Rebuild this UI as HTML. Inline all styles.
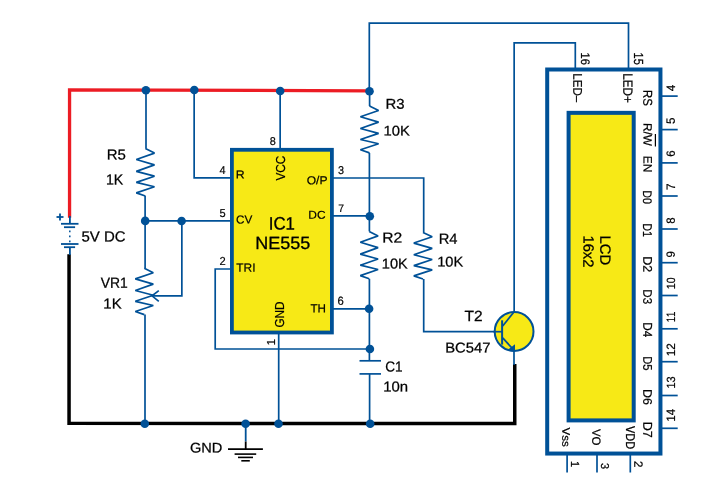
<!DOCTYPE html>
<html><head><meta charset="utf-8"><style>
html,body{margin:0;padding:0;background:#fff;width:726px;height:487px;overflow:hidden}
svg{display:block;will-change:transform}
text{font-family:"Liberation Sans",sans-serif;fill:#000000;font-kerning:none;text-rendering:geometricPrecision;stroke:#000000;stroke-width:0.35px}
</style></head><body>
<svg width="726" height="487" viewBox="0 0 726 487">
<polyline points="69.55,217.80 69.55,89.90 369.40,90.80" fill="none" stroke="#ec1c24" stroke-width="3.3" stroke-linejoin="miter" stroke-linecap="butt"/>
<polyline points="69.05,254.20 69.05,423.30 514.75,423.60 514.75,364.00" fill="none" stroke="#000000" stroke-width="3.5" stroke-linejoin="miter" stroke-linecap="butt"/>
<polyline points="69.90,216.00 69.90,224.00" fill="none" stroke="#005197" stroke-width="1.8" stroke-linejoin="miter" stroke-linecap="butt"/>
<polyline points="61.00,223.80 78.50,223.80" fill="none" stroke="#005197" stroke-width="1.8" stroke-linejoin="miter" stroke-linecap="butt"/>
<polyline points="64.00,227.20 75.10,227.20" fill="none" stroke="#005197" stroke-width="1.8" stroke-linejoin="miter" stroke-linecap="butt"/>
<line x1="69.8" y1="230.6" x2="69.8" y2="243" stroke="#005197" stroke-width="1.5" stroke-dasharray="1.6 3.4"/>
<polyline points="61.00,244.00 78.50,244.00" fill="none" stroke="#005197" stroke-width="1.8" stroke-linejoin="miter" stroke-linecap="butt"/>
<polyline points="64.00,247.20 75.10,247.20" fill="none" stroke="#005197" stroke-width="1.8" stroke-linejoin="miter" stroke-linecap="butt"/>
<polyline points="69.90,247.00 69.90,255.00" fill="none" stroke="#005197" stroke-width="1.8" stroke-linejoin="miter" stroke-linecap="butt"/>
<polyline points="56.50,217.00 63.50,217.00" fill="none" stroke="#005197" stroke-width="1.8" stroke-linejoin="miter" stroke-linecap="butt"/>
<polyline points="60.00,213.50 60.00,220.50" fill="none" stroke="#005197" stroke-width="1.8" stroke-linejoin="miter" stroke-linecap="butt"/>
<polyline points="146.00,90.50 146.00,148.60" fill="none" stroke="#005197" stroke-width="1.7" stroke-linejoin="miter" stroke-linecap="butt"/>
<polyline points="145.40,148.60 154.50,153.09 136.30,159.44 154.50,164.84 136.30,171.34 154.50,176.18 136.30,182.39 154.50,186.72 136.30,192.87 145.40,196.00" fill="none" stroke="#005197" stroke-width="1.7" stroke-linejoin="bevel" stroke-linecap="butt"/>
<polyline points="145.10,196.00 145.10,268.30" fill="none" stroke="#005197" stroke-width="1.7" stroke-linejoin="miter" stroke-linecap="butt"/>
<polyline points="144.30,268.30 153.30,272.68 135.30,278.89 153.30,284.16 135.30,290.51 153.30,295.24 135.30,301.30 153.30,305.54 135.30,311.55 144.30,314.60" fill="none" stroke="#005197" stroke-width="1.7" stroke-linejoin="bevel" stroke-linecap="butt"/>
<polyline points="145.00,314.60 145.00,423.40" fill="none" stroke="#005197" stroke-width="1.7" stroke-linejoin="miter" stroke-linecap="butt"/>
<polyline points="194.15,90.50 194.15,177.80 232.00,177.80" fill="none" stroke="#005197" stroke-width="1.7" stroke-linejoin="miter" stroke-linecap="butt"/>
<polyline points="280.15,90.50 280.15,149.00" fill="none" stroke="#005197" stroke-width="1.7" stroke-linejoin="miter" stroke-linecap="butt"/>
<polyline points="369.30,90.50 369.30,23.10 628.50,23.10 628.50,70.00" fill="none" stroke="#005197" stroke-width="1.7" stroke-linejoin="miter" stroke-linecap="butt"/>
<polyline points="369.60,90.50 369.60,106.10" fill="none" stroke="#005197" stroke-width="1.7" stroke-linejoin="miter" stroke-linecap="butt"/>
<polyline points="369.50,106.10 378.60,110.53 360.40,116.80 378.60,122.13 360.40,128.55 378.60,133.33 360.40,139.46 378.60,143.74 360.40,149.81 369.50,152.90" fill="none" stroke="#005197" stroke-width="1.7" stroke-linejoin="bevel" stroke-linecap="butt"/>
<polyline points="369.40,152.90 369.40,231.40" fill="none" stroke="#005197" stroke-width="1.7" stroke-linejoin="miter" stroke-linecap="butt"/>
<polyline points="369.20,231.40 378.10,235.89 360.30,242.24 378.10,247.64 360.30,254.14 378.10,258.98 360.30,265.19 378.10,269.52 360.30,275.67 369.20,278.80" fill="none" stroke="#005197" stroke-width="1.7" stroke-linejoin="bevel" stroke-linecap="butt"/>
<polyline points="369.40,278.80 369.40,360.80" fill="none" stroke="#005197" stroke-width="1.7" stroke-linejoin="miter" stroke-linecap="butt"/>
<polyline points="359.50,360.80 381.00,360.80" fill="none" stroke="#005197" stroke-width="1.7" stroke-linejoin="miter" stroke-linecap="butt"/>
<polyline points="359.50,373.90 381.00,373.90" fill="none" stroke="#005197" stroke-width="1.7" stroke-linejoin="miter" stroke-linecap="butt"/>
<polyline points="369.60,373.90 369.60,423.40" fill="none" stroke="#005197" stroke-width="1.7" stroke-linejoin="miter" stroke-linecap="butt"/>
<polyline points="332.00,215.80 369.40,215.80" fill="none" stroke="#005197" stroke-width="1.7" stroke-linejoin="miter" stroke-linecap="butt"/>
<polyline points="332.00,308.80 369.40,308.80" fill="none" stroke="#005197" stroke-width="1.7" stroke-linejoin="miter" stroke-linecap="butt"/>
<polyline points="332.00,178.00 423.70,178.00 423.70,232.40" fill="none" stroke="#005197" stroke-width="1.7" stroke-linejoin="miter" stroke-linecap="butt"/>
<polyline points="423.00,232.40 432.20,236.81 413.80,243.06 432.20,248.36 413.80,254.76 432.20,259.52 413.80,265.61 432.20,269.88 413.80,275.93 423.00,279.00" fill="none" stroke="#005197" stroke-width="1.7" stroke-linejoin="bevel" stroke-linecap="butt"/>
<polyline points="423.70,279.00 423.70,331.70 502.00,331.70" fill="none" stroke="#005197" stroke-width="1.7" stroke-linejoin="miter" stroke-linecap="butt"/>
<polyline points="145.50,220.90 232.00,220.90" fill="none" stroke="#005197" stroke-width="1.7" stroke-linejoin="miter" stroke-linecap="butt"/>
<polyline points="181.85,220.90 181.85,295.80 152.00,295.80" fill="none" stroke="#005197" stroke-width="1.7" stroke-linejoin="miter" stroke-linecap="butt"/>
<polyline points="158.80,290.60 152.00,295.80 158.80,301.40" fill="none" stroke="#005197" stroke-width="1.7" stroke-linejoin="miter" stroke-linecap="butt"/>
<polyline points="232.00,269.00 215.20,269.00 215.20,349.00 369.90,349.00" fill="none" stroke="#005197" stroke-width="1.7" stroke-linejoin="miter" stroke-linecap="butt"/>
<polyline points="278.70,332.00 278.70,423.40" fill="none" stroke="#005197" stroke-width="1.7" stroke-linejoin="miter" stroke-linecap="butt"/>
<polyline points="514.15,311.00 514.15,42.90 575.30,42.90 575.30,70.00" fill="none" stroke="#005197" stroke-width="1.7" stroke-linejoin="miter" stroke-linecap="butt"/>
<polyline points="514.00,349.00 514.00,365.00" fill="none" stroke="#005197" stroke-width="1.7" stroke-linejoin="miter" stroke-linecap="butt"/>
<polyline points="245.70,423.40 245.70,441.50" fill="none" stroke="#005197" stroke-width="1.8" stroke-linejoin="miter" stroke-linecap="butt"/>
<polyline points="245.70,441.50 245.70,449.00" fill="none" stroke="#000000" stroke-width="1.8" stroke-linejoin="miter" stroke-linecap="butt"/>
<polyline points="228.00,449.10 262.90,449.10" fill="none" stroke="#000000" stroke-width="1.6" stroke-linejoin="miter" stroke-linecap="butt"/>
<polyline points="234.60,454.10 256.20,454.10" fill="none" stroke="#000000" stroke-width="1.6" stroke-linejoin="miter" stroke-linecap="butt"/>
<polyline points="238.00,457.40 253.00,457.40" fill="none" stroke="#000000" stroke-width="1.6" stroke-linejoin="miter" stroke-linecap="butt"/>
<polyline points="241.30,460.80 249.80,460.80" fill="none" stroke="#000000" stroke-width="1.6" stroke-linejoin="miter" stroke-linecap="butt"/>
<circle cx="145.9" cy="90.2" r="4.3" fill="#005197"/>
<circle cx="194.3" cy="90.05" r="4.3" fill="#005197"/>
<circle cx="280.2" cy="91.0" r="4.3" fill="#005197"/>
<circle cx="369.5" cy="91.3" r="4.3" fill="#005197"/>
<circle cx="145.2" cy="220.9" r="4.3" fill="#005197"/>
<circle cx="181.6" cy="221" r="4.3" fill="#005197"/>
<circle cx="369.8" cy="216.2" r="4.3" fill="#005197"/>
<circle cx="369.1" cy="308.8" r="4.3" fill="#005197"/>
<circle cx="369.9" cy="349" r="4.3" fill="#005197"/>
<circle cx="144.8" cy="423.75" r="4.3" fill="#005197"/>
<circle cx="245.6" cy="423.7" r="4.3" fill="#005197"/>
<circle cx="278.5" cy="423.75" r="4.3" fill="#005197"/>
<circle cx="370.2" cy="423.8" r="4.3" fill="#005197"/>
<rect x="231.9" y="149.8" width="100" height="182.7" fill="#f7e916" stroke="#005197" stroke-width="3.8"/>
<circle cx="514.1" cy="331.5" r="19.4" fill="#f7e916" stroke="#005197" stroke-width="2"/>
<polyline points="502.10,320.30 502.10,344.60" fill="none" stroke="#005197" stroke-width="2.0" stroke-linejoin="miter" stroke-linecap="butt"/>
<polyline points="493.50,331.70 502.00,331.70" fill="none" stroke="#005197" stroke-width="1.7" stroke-linejoin="miter" stroke-linecap="butt"/>
<polyline points="502.70,326.00 514.00,311.90" fill="none" stroke="#005197" stroke-width="1.7" stroke-linejoin="miter" stroke-linecap="butt"/>
<polyline points="502.70,337.90 512.50,348.60" fill="none" stroke="#005197" stroke-width="1.7" stroke-linejoin="miter" stroke-linecap="butt"/>
<polygon points="515,344.2 508.2,349.4 515,351.8" fill="#005197"/>
<rect x="547.2" y="69.5" width="113.25" height="384.05" fill="#fff" stroke="#005197" stroke-width="4"/>
<rect x="568.6" y="112.85" width="65.1" height="307.55" fill="#f7e916" stroke="#005197" stroke-width="4"/>
<polyline points="660.30,96.10 677.70,96.10" fill="none" stroke="#005197" stroke-width="1.7" stroke-linejoin="miter" stroke-linecap="butt"/>
<polyline points="660.30,129.60 677.70,129.60" fill="none" stroke="#005197" stroke-width="1.7" stroke-linejoin="miter" stroke-linecap="butt"/>
<polyline points="660.30,162.90 677.70,162.90" fill="none" stroke="#005197" stroke-width="1.7" stroke-linejoin="miter" stroke-linecap="butt"/>
<polyline points="660.30,196.00 677.70,196.00" fill="none" stroke="#005197" stroke-width="1.7" stroke-linejoin="miter" stroke-linecap="butt"/>
<polyline points="660.30,229.00 677.70,229.00" fill="none" stroke="#005197" stroke-width="1.7" stroke-linejoin="miter" stroke-linecap="butt"/>
<polyline points="660.30,262.70 677.70,262.70" fill="none" stroke="#005197" stroke-width="1.7" stroke-linejoin="miter" stroke-linecap="butt"/>
<polyline points="660.30,295.50 677.70,295.50" fill="none" stroke="#005197" stroke-width="1.7" stroke-linejoin="miter" stroke-linecap="butt"/>
<polyline points="660.30,328.80 677.70,328.80" fill="none" stroke="#005197" stroke-width="1.7" stroke-linejoin="miter" stroke-linecap="butt"/>
<polyline points="660.30,361.70 677.70,361.70" fill="none" stroke="#005197" stroke-width="1.7" stroke-linejoin="miter" stroke-linecap="butt"/>
<polyline points="660.30,395.50 677.70,395.50" fill="none" stroke="#005197" stroke-width="1.7" stroke-linejoin="miter" stroke-linecap="butt"/>
<polyline points="660.30,428.30 677.70,428.30" fill="none" stroke="#005197" stroke-width="1.7" stroke-linejoin="miter" stroke-linecap="butt"/>
<polyline points="567.10,453.70 567.10,472.50" fill="none" stroke="#005197" stroke-width="1.7" stroke-linejoin="miter" stroke-linecap="butt"/>
<polyline points="597.00,453.70 597.00,472.50" fill="none" stroke="#005197" stroke-width="1.7" stroke-linejoin="miter" stroke-linecap="butt"/>
<polyline points="630.30,453.70 630.30,472.50" fill="none" stroke="#005197" stroke-width="1.7" stroke-linejoin="miter" stroke-linecap="butt"/>
<text transform="translate(106.72 159.61) rotate(0.05) scale(0.7494 0.7238)" font-size="20.0">R5</text>
<text transform="translate(105.97 184.45) rotate(0.05) scale(0.7088 0.7340)" font-size="20.0">1K</text>
<text transform="translate(81.45 241.51) rotate(0.05) scale(0.7481 0.7345)" font-size="20.0">5V DC</text>
<text transform="translate(100.69 287.75) rotate(0.05) scale(0.6950 0.7340)" font-size="20.0">VR1</text>
<text transform="translate(103.31 308.45) rotate(0.05) scale(0.7484 0.7195)" font-size="20.0">1K</text>
<text transform="translate(385.43 108.71) rotate(0.05) scale(0.7463 0.7133)" font-size="20.0">R3</text>
<text transform="translate(383.62 135.61) rotate(0.05) scale(0.7388 0.6991)" font-size="20.0">10K</text>
<text transform="translate(382.17 242.45) rotate(0.05) scale(0.7810 0.7161)" font-size="20.0">R2</text>
<text transform="translate(381.84 268.41) rotate(0.05) scale(0.7270 0.7133)" font-size="20.0">10K</text>
<text transform="translate(438.64 243.75) rotate(0.05) scale(0.7369 0.7340)" font-size="20.0">R4</text>
<text transform="translate(437.24 266.51) rotate(0.05) scale(0.7300 0.7062)" font-size="20.0">10K</text>
<text transform="translate(385.26 371.51) rotate(0.05) scale(0.6787 0.7203)" font-size="20.0">C1</text>
<text transform="translate(383.21 391.41) rotate(0.05) scale(0.7464 0.7203)" font-size="20.0">10n</text>
<text transform="translate(464.50 320.95) rotate(0.05) scale(0.7768 0.7376)" font-size="20.0">T2</text>
<text transform="translate(445.14 352.41) rotate(0.05) scale(0.7401 0.7133)" font-size="20.0">BC547</text>
<text transform="translate(189.92 452.41) rotate(0.05) scale(0.7297 0.6991)" font-size="20.0">GND</text>
<text transform="translate(268.80 229.57) rotate(0.05) scale(0.8410 0.8969)" font-size="20.0">IC1</text>
<text transform="translate(255.17 248.88) rotate(0.05) scale(0.8999 0.8886)" font-size="20.0">NE555</text>
<text transform="translate(235.84 178.55) rotate(0.05) scale(0.6147 0.5814)" font-size="20.0">R</text>
<text transform="translate(306.68 184.14) rotate(0.05) scale(0.6040 0.5787)" font-size="20.0">O/P</text>
<text transform="translate(308.27 218.64) rotate(0.05) scale(0.5966 0.5720)" font-size="20.0">DC</text>
<text transform="translate(235.96 223.44) rotate(0.05) scale(0.5847 0.5791)" font-size="20.0">CV</text>
<text transform="translate(236.28 271.75) rotate(0.05) scale(0.5982 0.5959)" font-size="20.0">TRI</text>
<text transform="translate(310.49 312.55) rotate(0.05) scale(0.5818 0.5959)" font-size="20.0">TH</text>
<text transform="translate(269.68 144.64) rotate(0.05) scale(0.5424 0.5650)" font-size="20.0">8</text>
<text transform="translate(219.51 173.55) rotate(0.05) scale(0.5442 0.5669)" font-size="20.0">4</text>
<text transform="translate(338.07 174.44) rotate(0.05) scale(0.5424 0.5650)" font-size="20.0">3</text>
<text transform="translate(338.13 211.95) rotate(0.05) scale(0.5233 0.5451)" font-size="20.0">7</text>
<text transform="translate(219.50 216.74) rotate(0.05) scale(0.5503 0.5733)" font-size="20.0">5</text>
<text transform="translate(219.50 264.65) rotate(0.05) scale(0.5568 0.5800)" font-size="20.0">2</text>
<text transform="translate(337.43 304.74) rotate(0.05) scale(0.5627 0.5862)" font-size="20.0">6</text>
<text transform="translate(285.02 180.60) rotate(-89.95) scale(0.5921 0.6497)" font-size="20.0">VCC</text>
<text transform="translate(284.02 327.54) rotate(-89.95) scale(0.5885 0.6497)" font-size="20.0">GND</text>
<text transform="translate(274.85 345.26) rotate(-89.95) scale(0.5581 0.5814)" font-size="20.0">1</text>
<text transform="translate(580.77 52.61) rotate(90.05) scale(0.5543 0.6215)" font-size="20.0">16</text>
<text transform="translate(633.68 52.61) rotate(90.05) scale(0.5532 0.6593)" font-size="20.0">15</text>
<text transform="translate(573.35 73.19) rotate(90.05) scale(0.5829 0.6323)" font-size="20.0">LED–</text>
<text transform="translate(623.35 73.19) rotate(90.05) scale(0.5880 0.6686)" font-size="20.0">LED+</text>
<text transform="translate(643.28 90.12) rotate(90.05) scale(0.5669 0.6426)" font-size="20.0">RS</text>
<text transform="translate(643.57 123.09) rotate(90.05) scale(0.5865 0.5991)" font-size="20.0">R/W</text>
<text transform="translate(643.45 155.77) rotate(90.05) scale(0.5956 0.6105)" font-size="20.0">EN</text>
<text transform="translate(643.37 190.37) rotate(90.05) scale(0.5358 0.6215)" font-size="20.0">D0</text>
<text transform="translate(643.25 223.26) rotate(90.05) scale(0.5403 0.6395)" font-size="20.0">D1</text>
<text transform="translate(643.25 256.33) rotate(90.05) scale(0.6239 0.6302)" font-size="20.0">D2</text>
<text transform="translate(643.37 289.30) rotate(90.05) scale(0.5814 0.6215)" font-size="20.0">D3</text>
<text transform="translate(643.25 322.19) rotate(90.05) scale(0.5870 0.6395)" font-size="20.0">D4</text>
<text transform="translate(643.37 356.23) rotate(90.05) scale(0.5631 0.6306)" font-size="20.0">D5</text>
<text transform="translate(643.37 388.93) rotate(90.05) scale(0.6205 0.6215)" font-size="20.0">D6</text>
<text transform="translate(643.25 421.73) rotate(90.05) scale(0.6239 0.6395)" font-size="20.0">D7</text>
<text transform="translate(562.16 427.40) rotate(90.05) scale(0.5810 0.5518)" font-size="20.0">Vss</text>
<text transform="translate(592.37 428.90) rotate(90.05) scale(0.5745 0.5932)" font-size="20.0">VO</text>
<text transform="translate(625.55 426.00) rotate(90.05) scale(0.5464 0.6395)" font-size="20.0">VDD</text>
<text transform="translate(600.29 235.43) rotate(90.05) scale(0.7431 0.7415)" font-size="20.0">LCD</text>
<text transform="translate(583.39 235.53) rotate(90.05) scale(0.7321 0.7415)" font-size="20.0">16x2</text>
<text transform="translate(674.83 289.16) rotate(-89.95) scale(0.5316 0.5932)" font-size="20.0">10</text>
<text transform="translate(674.95 322.28) rotate(-89.95) scale(0.4811 0.6105)" font-size="20.0">11</text>
<text transform="translate(674.95 356.24) rotate(-89.95) scale(0.5833 0.6015)" font-size="20.0">12</text>
<text transform="translate(674.83 388.59) rotate(-89.95) scale(0.5493 0.5932)" font-size="20.0">13</text>
<text transform="translate(674.95 421.51) rotate(-89.95) scale(0.5661 0.6105)" font-size="20.0">14</text>
<text transform="translate(674.95 91.32) rotate(-89.95) scale(0.5861 0.6105)" font-size="20.0">4</text>
<text transform="translate(674.83 124.10) rotate(-89.95) scale(0.5779 0.6019)" font-size="20.0">5</text>
<text transform="translate(674.83 156.66) rotate(-89.95) scale(0.5695 0.5932)" font-size="20.0">6</text>
<text transform="translate(674.95 189.92) rotate(-89.95) scale(0.5861 0.6105)" font-size="20.0">7</text>
<text transform="translate(674.83 223.82) rotate(-89.95) scale(0.5695 0.5932)" font-size="20.0">8</text>
<text transform="translate(674.83 257.51) rotate(-89.95) scale(0.5695 0.5932)" font-size="20.0">9</text>
<text transform="translate(570.95 461.05) rotate(90.05) scale(0.5651 0.5887)" font-size="20.0">1</text>
<text transform="translate(601.26 463.03) rotate(90.05) scale(0.5491 0.5720)" font-size="20.0">3</text>
<text transform="translate(634.15 460.89) rotate(90.05) scale(0.5775 0.6015)" font-size="20.0">2</text>
<polyline points="655.40,134.10 655.40,146.60" fill="none" stroke="#000000" stroke-width="1.2" stroke-linejoin="miter" stroke-linecap="butt"/>
</svg></body></html>
